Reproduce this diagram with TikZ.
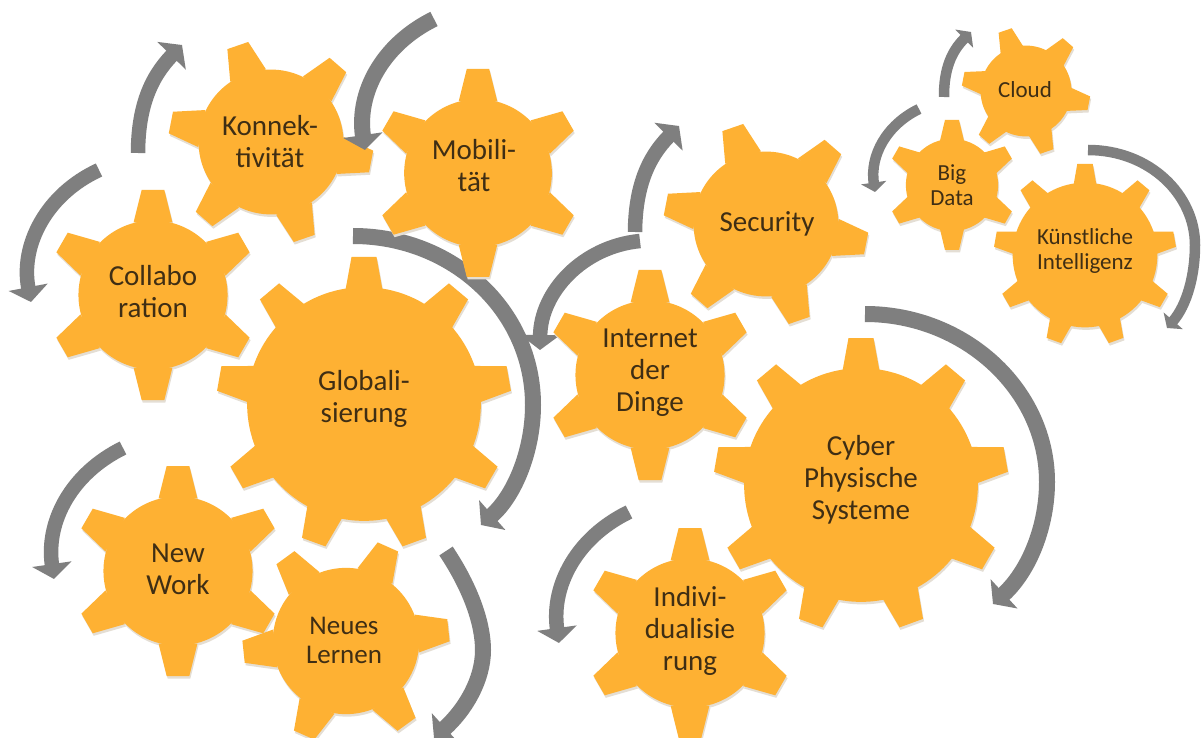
\documentclass[tikz,border=0pt]{standalone}
\usepackage{fontspec}
\setmainfont{Carlito}
\usetikzlibrary{arrows.meta}
\definecolor{gearfill}{HTML}{FEB133}
\definecolor{gearshade}{HTML}{E4DED4}
\definecolor{flowgrey}{HTML}{7F7F7F}
\definecolor{geartext}{HTML}{3F2E14}
\newcommand{\gearbody}[5]{%
  % colour, outer radius, tooth count, rotation, inner radius
  \fill[#1] (0,0) circle[radius=#5 pt];
  \foreach \i in {1,...,#3} {
    \pgfmathsetmacro\ang{#4+(\i-1)*360/#3}
    \fill[#1,rotate=\ang] (#5pt-2pt,-\gbh pt) -- (#2pt,-\gth pt) -- (#2pt,\gth pt) -- (#5pt-2pt,\gbh pt) -- cycle;
  }
}
\newcommand{\gearshape}[8]{%
  \pgfmathsetmacro\gri{#3*#6}
  \pgfmathsetmacro\gth{#3*#7}
  \pgfmathsetmacro\gbh{#3*#8}
  \begin{scope}[shift={(#1+1,#2+2.5)}]\gearbody{gearshade}{#3}{#5}{#4}{\gri}\end{scope}
  \begin{scope}[shift={(#1,#2)}]\gearbody{gearfill}{#3}{#5}{#4}{\gri}\end{scope}
}
\newcommand{\hexgear}[4]{\gearshape{#1}{#2}{#3}{#4}{6}{0.71}{0.108}{0.185}}
\newcommand{\ninegear}[4]{\gearshape{#1}{#2}{#3}{#4}{9}{0.795}{0.085}{0.125}}
\tikzset{
  gearlabel/.style={align=center,text=geartext,inner sep=0pt},
  big/.style={gearlabel,font=\fontsize{29}{32}\selectfont},
  mid/.style={gearlabel,font=\fontsize{27}{29}\selectfont},
  small/.style={gearlabel,font=\fontsize{23}{25}\selectfont},
  flowthick/.style={draw=flowgrey,line width=16pt,-{Triangle[length=15pt,width=39pt]}},
  flowmid/.style={draw=flowgrey,line width=14.5pt,-{Triangle[length=15pt,width=39pt]}},
  flowthin/.style={draw=flowgrey,line width=10.5pt,-{Triangle[length=9.5pt,width=25pt]}},
}
\begin{document}
\begin{tikzpicture}[x=1pt,y=-1pt]
\useasboundingbox (0,0) rectangle (1203,738);
\clip (0,0) rectangle (1203,738);
\fill[white] (0,0) rectangle (1203,738);

% free ends of the arrows
\coordinate (a1s) at (138,153);  \coordinate (a1t) at (182,45);
\coordinate (a2s) at (99,170);   \coordinate (a2t) at (31,302);
\coordinate (a3s) at (434,19);   \coordinate (a3t) at (365,150);
\coordinate (a4s) at (353,236);  \coordinate (a4m) at (533,405);  \coordinate (a4t) at (481,525);
\coordinate (a5s) at (640,241);  \coordinate (a5t) at (540,350);
\coordinate (a6s) at (635,232);  \coordinate (a6t) at (679,126);
\coordinate (a7s) at (944,97);   \coordinate (a7t) at (971,32);
\coordinate (a8s) at (919,109);  \coordinate (a8t) at (875,192);
\coordinate (a9s) at (1088,150); \coordinate (a9m) at (1195,245); \coordinate (a9t) at (1167,328);
\coordinate (a10s) at (865,314); \coordinate (a10m) at (1047,482); \coordinate (a10t) at (993,604);
\coordinate (a11s) at (629,512); \coordinate (a11t) at (559,643);
\coordinate (a12s) at (123,448); \coordinate (a12t) at (54,579);
\coordinate (a13s) at (446,551); \coordinate (a13m) at (483,650); \coordinate (a13t) at (434,738);

% gears below the arrows
\hexgear{271}{142}{102}{-11}
\node[big] (konn) at (270,142) {Konnek-\\tivität};

% arrows
\draw[flowmid] (a1s) to[bend left=22] (a1t);
\draw[flowmid] (a2s) to[bend right=38] (a2t);
\draw[flowthick] (a3s) to[bend right=36] (a3t);
\draw[flowthick] (a4s) .. controls (452,236) and (533,310) .. (a4m) .. controls (533,450) and (515,495) .. (a4t);
\draw[flowmid] (a5s) to[bend right=42] (a5t);
\draw[flowmid] (a6s) to[bend left=22] (a6t);
\draw[flowthin] (a7s) to[bend left=23] (a7t);
\draw[flowthin] (a8s) to[bend right=36] (a8t);
\draw[flowthin] (a9s) .. controls (1150,150) and (1195,195) .. (a9m) .. controls (1195,275) and (1187,305) .. (a9t);
\draw[flowthick] (a10s) .. controls (965,314) and (1047,390) .. (a10m) .. controls (1047,525) and (1030,570) .. (a10t);
\draw[flowmid] (a11s) to[bend right=36] (a11t);
\draw[flowmid] (a12s) to[bend right=36] (a12t);
\draw[flowthick] (a13s) .. controls (472,590) and (483,625) .. (a13m) .. controls (483,680) and (465,710) .. (a13t);

% gears above the arrows
\hexgear{153}{295}{105}{90}
\node[big] (coll) at (153,292) {Collabo\\ration};
\hexgear{478}{173}{104}{90}
\node[big] (mobi) at (474,166) {Mobili-\\tät};
\ninegear{364}{404}{147}{90}
\node[big] (glob) at (364,399) {Globali-\\sierung};
\hexgear{178}{571}{105}{90}
\node[big] (newwork) at (178,569) {New\\Work};
\hexgear{346}{641}{103}{6}
\node[mid] (lernen) at (344,640) {Neues\\Lernen};
\hexgear{766}{224}{102}{-11}
\node[big] (secu) at (767,224) {Security};
\hexgear{650}{375}{105}{90}
\node[big] (iot) at (650,373) {Internet\\der\\Dinge};
\ninegear{861}{485}{147}{90}
\node[big] (cps) at (861,480) {Cyber\\Physische\\Systeme};
\hexgear{690}{633}{105}{90}
\node[big] (indi) at (690,631) {Indivi-\\dualisie\\rung};
\hexgear{1026}{91}{64}{-11}
\node[small] (cloud) at (1025,90) {Cloud};
\hexgear{952}{185}{65}{90}
\node[small] (bigdata) at (952,185) {Big\\Data};
\ninegear{1085}{255}{91}{90}
\node[small] (ki) at (1085,251) {Künstliche\\Intelligenz};
\end{tikzpicture}
\end{document}
